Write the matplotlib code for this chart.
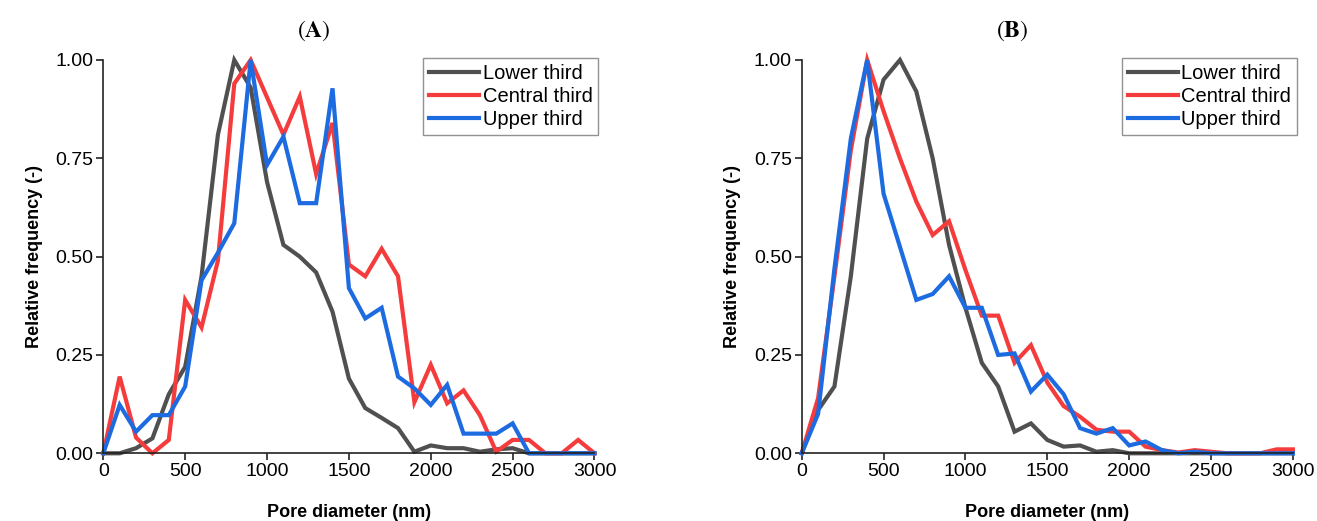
import matplotlib
matplotlib.use("Agg")
import matplotlib.pyplot as plt
import numpy as np

# Pore diameters (nm)
diameters = list(range(0, 3001, 100))

# Panel A
a_lower = [0, 0, 0.013, 0.038, 0.15, 0.22, 0.45, 0.81, 1.00, 0.93, 0.69, 0.53, 0.50, 0.46,
           0.36, 0.19, 0.115, 0.09, 0.064, 0.004, 0.02, 0.013, 0.013, 0.004, 0.01, 0.013,
           0, 0, 0, 0, 0]
a_central = [0, 0.195, 0.04, 0, 0.034, 0.39, 0.32, 0.49, 0.94, 1.00, 0.905, 0.81, 0.907, 0.71,
             0.84, 0.48, 0.45, 0.52, 0.45, 0.13, 0.225, 0.127, 0.16, 0.097, 0.004, 0.034,
             0.034, 0, 0, 0.034, 0]
a_upper = [0, 0.123, 0.055, 0.097, 0.097, 0.17, 0.44, 0.51, 0.585, 1.00, 0.733, 0.805, 0.636,
           0.636, 0.928, 0.42, 0.343, 0.37, 0.195, 0.165, 0.123, 0.174, 0.05, 0.05, 0.05,
           0.076, 0, 0, 0, 0, 0]

# Panel B
b_lower = [0, 0.11, 0.17, 0.45, 0.80, 0.95, 1.00, 0.92, 0.75, 0.53, 0.37, 0.23, 0.17, 0.055,
           0.076, 0.034, 0.017, 0.02, 0.004, 0.008, 0, 0, 0, 0, 0, 0, 0, 0, 0, 0, 0]
b_central = [0, 0.14, 0.45, 0.77, 1.00, 0.87, 0.75, 0.64, 0.555, 0.59, 0.466, 0.35, 0.35, 0.23,
             0.275, 0.18, 0.12, 0.093, 0.06, 0.055, 0.055, 0.017, 0.008, 0.002, 0.008, 0.004,
             0, 0, 0, 0.01, 0.01]
b_upper = [0, 0.10, 0.47, 0.80, 1.00, 0.66, 0.525, 0.39, 0.405, 0.45, 0.37, 0.37, 0.25, 0.254,
           0.157, 0.2, 0.15, 0.064, 0.05, 0.064, 0.02, 0.03, 0.008, 0, 0.004, 0, 0, 0, 0, 0, 0]

series_names = ["Lower third", "Central third", "Upper third"]
colors = ["#505050", "#f53c3c", "#1c6be0"]
panel_titles = ["A", "B"]
xticks = [0, 500, 1000, 1500, 2000, 2500, 3000]
yticks = [0.00, 0.25, 0.50, 0.75, 1.00]

plt.rcParams['font.family'] = ['Liberation Sans', 'DejaVu Sans']
plt.rcParams['mathtext.fontset'] = 'stix'

fig = plt.figure(figsize=(13.17, 5.21), dpi=100)
W, H = 1317, 521
axes_px = [(103.3, 594.5), (801.7, 1292.9)]
top_px, bot_px = 60, 453.3
title_x = [314, 1012]

panels = [(a_lower, a_central, a_upper), (b_lower, b_central, b_upper)]

for i, (data, (l, r)) in enumerate(zip(panels, axes_px)):
    ax = fig.add_axes([l / W, 1 - bot_px / H, (r - l) / W, (bot_px - top_px) / H])
    for ys, name, c in zip(data, series_names, colors):
        ax.plot(diameters, ys, color=c, lw=3.0, label=name, clip_on=False,
                solid_joinstyle='miter')
    ax.set_xlim(0, 3000)
    ax.set_ylim(0, 1)
    ax.set_xticks(xticks)
    ax.set_yticks(yticks)
    ax.set_yticklabels([f"{v:.2f}" for v in yticks])
    ax.spines['top'].set_visible(False)
    ax.spines['right'].set_visible(False)
    for s in ('left', 'bottom'):
        ax.spines[s].set_linewidth(1.2)
        ax.spines[s].set_color('#222222')
    ax.tick_params(direction='out', length=5, width=1.2, labelsize=14, colors='#222222',
                   labelcolor='black', pad=2)
    ax.set_xlabel("Pore diameter (nm)", fontsize=13, fontweight='bold', labelpad=17)
    ax.set_ylabel("Relative frequency (-)", fontsize=13, fontweight='bold', labelpad=9)
    leg = ax.legend(loc='upper right', bbox_to_anchor=(1.008, 1.005), fontsize=14.5,
                    frameon=True, fancybox=False, handlelength=2.5, handletextpad=0.15,
                    borderpad=0.3, labelspacing=0.2, borderaxespad=0.0)
    leg.get_frame().set_edgecolor('#777777')
    leg.get_frame().set_linewidth(1.0)
    fig.text(title_x[i] / W, 1 - 31 / H, "(" + r"$\mathbf{" + panel_titles[i] + "}$" + ")",
             fontsize=17, family='STIXGeneral', ha='center', va='center')

fig.savefig("out.png", dpi=100)
